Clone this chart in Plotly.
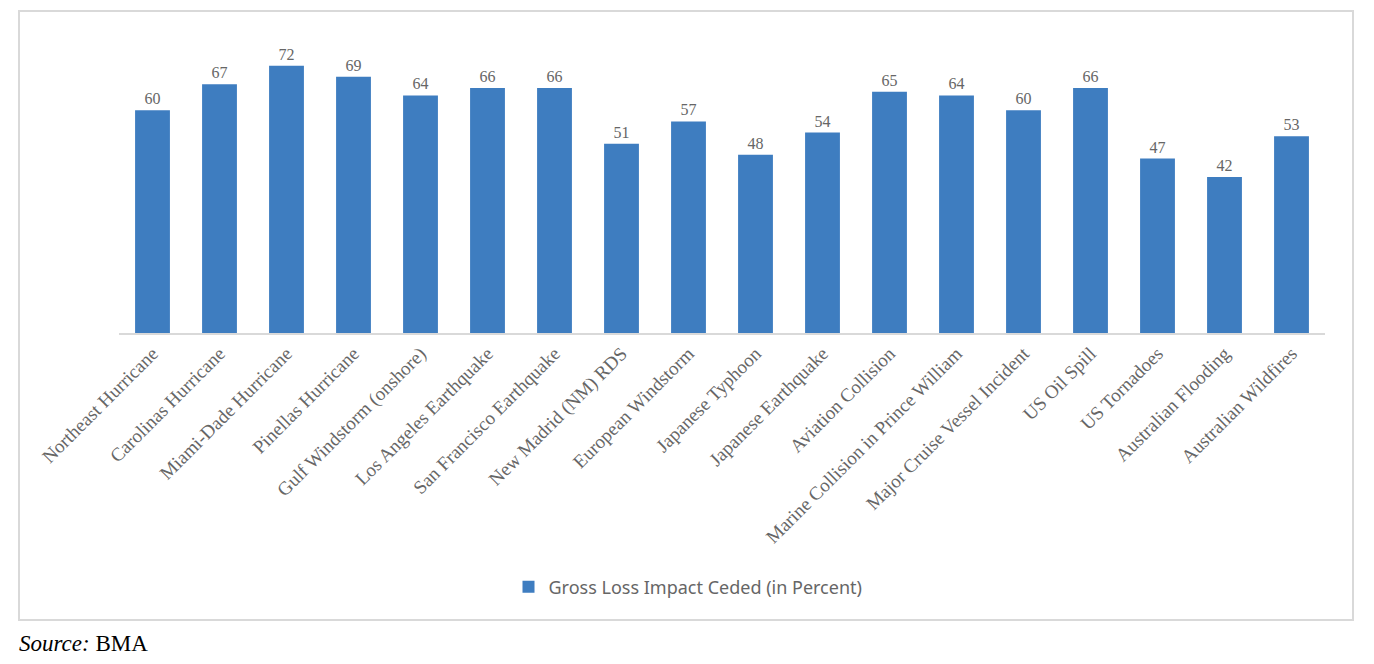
import plotly.graph_objects as go

categories = ["Northeast Hurricane", "Carolinas Hurricane", "Miami-Dade Hurricane",
              "Pinellas Hurricane", "Gulf Windstorm (onshore)", "Los Angeles Earthquake",
              "San Francisco Earthquake", "New Madrid (NM) RDS", "European Windstorm",
              "Japanese Typhoon", "Japanese Earthquake", "Aviation Collision",
              "Marine Collision in Prince William", "Major Cruise Vessel Incident",
              "US Oil Spill", "US Tornadoes", "Australian Flooding", "Australian Wildfires"]
values = [60, 67, 72, 69, 64, 66, 66, 51, 57, 48, 54, 65, 64, 60, 66, 47, 42, 53]
series_name = "Gross Loss Impact Ceded (in Percent)"

W, H = 1374, 664
OFF = 8  # page body margin
L, R, T, B = 119 - OFF, 1325 - OFF, 36 - OFF, 333 - OFF
pw, ph = R - L, B - T

def px2x(p):
    return (p - OFF - L) / pw

def py2y(p):
    return (B - (p - OFF)) / ph

fig = go.Figure()
fig.add_trace(go.Bar(
    x=categories, y=values, name=series_name,
    marker=dict(color="#3E7DC0", line=dict(width=0)),
    text=values, textposition="outside",
    textfont=dict(family="Liberation Serif", size=16, color="#666666"),
    cliponaxis=False, showlegend=True,
))

fig.update_layout(
    width=W, height=H,
    margin=dict(l=L, r=W - R, t=T, b=H - B),
    paper_bgcolor="white", plot_bgcolor="white",
    bargap=0.48,
    xaxis=dict(tickangle=-45, showline=True, linecolor="#D9D9D9", linewidth=2,
               ticks="", showgrid=False,
               tickfont=dict(family="Liberation Serif", size=19, color="#666666")),
    yaxis=dict(range=[0, 80], visible=False, showgrid=False),
    legend=dict(orientation="h", x=px2x(688), xanchor="center", y=py2y(587), yanchor="middle",
                font=dict(family="Noto Sans", size=18, color="#666666"),
                itemwidth=30, bgcolor="rgba(0,0,0,0)"),
    shapes=[dict(type="rect", xref="paper", yref="paper",
                 x0=px2x(19), x1=px2x(1353), y0=py2y(620), y1=py2y(11),
                 line=dict(color="#D9D9D9", width=2), layer="below")],
    annotations=[dict(text="<i>Source:</i> BMA", xref="paper", yref="paper",
                      x=px2x(17), y=py2y(643), xanchor="left", yanchor="middle",
                      showarrow=False,
                      font=dict(family="Liberation Serif", size=23, color="black"))],
)

fig.write_html("out.html")
